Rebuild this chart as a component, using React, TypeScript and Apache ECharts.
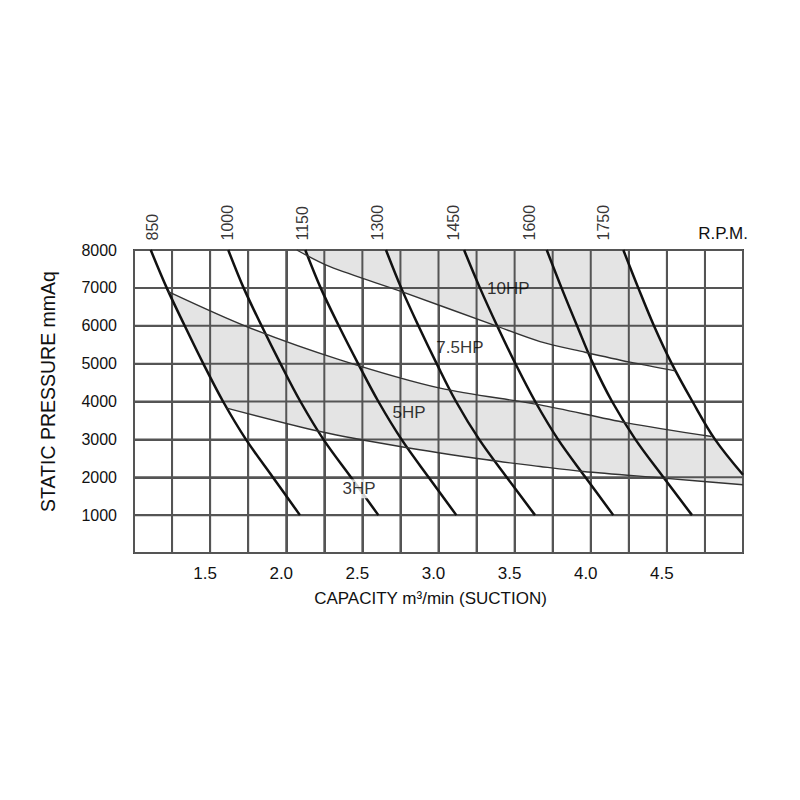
import React, { useEffect, useRef } from 'react';
import * as echarts from 'echarts';

// Static pressure levels (mmAq) at which each RPM curve was read
const pressureLevels = [8000, 7000, 6000, 5000, 4000, 3000, 2000, 1000];

// Capacity (m3/min) of each RPM curve at the pressure levels above
const rpm850 = [1.110, 1.215, 1.333, 1.455, 1.585, 1.735, 1.912, 2.090];
const rpm1000 = [1.619, 1.720, 1.838, 1.962, 2.093, 2.244, 2.425, 2.605];
const rpm1150 = [2.125, 2.226, 2.345, 2.472, 2.605, 2.757, 2.935, 3.117];
const rpm1300 = [2.655, 2.755, 2.868, 2.988, 3.115, 3.267, 3.448, 3.634];
const rpm1450 = [3.168, 3.272, 3.385, 3.505, 3.635, 3.785, 3.965, 4.148];
const rpm1600 = [3.711, 3.808, 3.910, 4.015, 4.140, 4.293, 4.477, 4.665];
// 1750 rpm curve leaves the chart on the right edge
const rpm1750X = [4.214, 4.312, 4.415, 4.532, 4.668, 4.816, 5.0];
const rpm1750Y = [8000, 7000, 6000, 5000, 4000, 3000, 2065];

// Horsepower limit lines
const hp10X = [2.069, 2.287, 2.758, 3.360, 3.667, 3.962, 4.258, 4.555];
const hp10Y = [8000, 7559, 6900, 6022, 5581, 5301, 5038, 4810];
const hp75X = [1.225, 1.740, 2.353, 3.010, 3.667, 4.236, 4.794];
const hp75Y = [6900, 5977, 5099, 4352, 3912, 3437, 3076];
const hp5X = [1.609, 2.222, 2.747, 3.317, 3.667, 3.951, 4.477, 5.0];
const hp5Y = [3825, 3207, 2812, 2461, 2284, 2152, 1978, 1802];

// Labels
const rpmNames = ['850', '1000', '1150', '1300', '1450', '1600', '1750'];
const rpmLabelX = [1.12, 1.617, 2.105, 2.6, 3.096, 3.6, 4.087];
const hpNames = ['10HP', '7.5HP', '5HP', '3HP'];
const hpLabelX = [3.459, 3.141, 2.806, 2.478];
const hpLabelY = [6990, 5428, 3714, 1696];

const capacityTicks = [1.5, 2.0, 2.5, 3.0, 3.5, 4.0, 4.5];
const pressureTicks = [1000, 2000, 3000, 4000, 5000, 6000, 7000, 8000];

// Axis ranges / grid spacing
const X_MIN = 1;
const X_MAX = 5;
const X_STEP = 0.25;
const Y_MIN = 0;
const Y_MAX = 8000;
const Y_STEP = 1000;

const FONT = '"Liberation Sans", Arial, Helvetica, sans-serif';
const TEXT = '#000';
const GRID_COLOR = '#555';

function pairs(xs: number[], ys: number[]): number[][] {
  return xs.map((x, i) => [x, ys[i]]);
}

export default function App() {
  const ref = useRef<HTMLDivElement>(null);
  useEffect(() => {
    const chart = echarts.init(ref.current!, null, { renderer: 'svg' });

    const curves = [rpm850, rpm1000, rpm1150, rpm1300, rpm1450, rpm1600].map((xs) =>
      pairs(xs, pressureLevels)
    );
    curves.push(pairs(rpm1750X, rpm1750Y));
    const c1 = curves[0];
    const c7 = curves[6];
    const hp10 = pairs(hp10X, hp10Y);
    const hp75 = pairs(hp75X, hp75Y);
    const hp5 = pairs(hp5X, hp5Y);

    const polyA = [
      ...hp10,
      ...c7.filter((p) => p[1] > hp10Y[hp10Y.length - 1]).reverse(),
    ];
    const polyB = [
      ...hp75,
      ...c7.filter((p) => p[1] < hp75Y[hp75Y.length - 1]),
      ...hp5.slice().reverse(),
      ...c1.filter((p) => p[1] > hp5Y[0] && p[1] < hp75Y[0]).reverse(),
    ];
    const polys = [polyA, polyB];

    const gridXs: number[] = [];
    for (let i = 0; X_MIN + i * X_STEP <= X_MAX + 1e-9; i++) gridXs.push(X_MIN + i * X_STEP);
    const gridYs: number[] = [];
    for (let i = 0; Y_MIN + i * Y_STEP <= Y_MAX + 1e-9; i++) gridYs.push(Y_MIN + i * Y_STEP);

    const series: any[] = [
      {
        type: 'custom',
        z: 1,
        silent: true,
        data: [[3, 4000]],
        renderItem: (params: any, api: any) => {
          const children: any[] = polys.map((poly) => ({
            type: 'polygon',
            shape: { points: poly.map((p) => api.coord(p)) },
            style: { fill: '#e4e4e4', stroke: 'none' },
          }));
          gridXs.forEach((x) => {
            const a = api.coord([x, Y_MIN]);
            const b = api.coord([x, Y_MAX]);
            children.push({
              type: 'line',
              shape: { x1: a[0], y1: a[1], x2: b[0], y2: b[1] },
              style: { stroke: GRID_COLOR, lineWidth: 2 },
            });
          });
          gridYs.forEach((y) => {
            const a = api.coord([X_MIN, y]);
            const b = api.coord([X_MAX, y]);
            children.push({
              type: 'line',
              shape: { x1: a[0], y1: a[1], x2: b[0], y2: b[1] },
              style: { stroke: GRID_COLOR, lineWidth: 2 },
            });
          });
          return { type: 'group', children };
        },
      },
    ];
    curves.forEach((c) =>
      series.push({
        type: 'line',
        data: c,
        symbol: 'none',
        smooth: 0.35,
        z: 4,
        lineStyle: { color: '#111', width: 2.5 },
      })
    );
    [hp10, hp75, hp5].forEach((c) =>
      series.push({
        type: 'line',
        data: c,
        symbol: 'none',
        smooth: 0.3,
        z: 4,
        lineStyle: { color: '#333', width: 1.4 },
      })
    );
    series.push({
      type: 'scatter',
      clip: false,
      symbolSize: 1,
      itemStyle: { color: 'rgba(0,0,0,0)' },
      data: rpmLabelX.map((x) => [x, 8000]),
      label: {
        show: true,
        formatter: (p: any) => rpmNames[p.dataIndex],
        position: 'top',
        distance: 9,
        rotate: 90,
        align: 'left',
        verticalAlign: 'middle',
        fontSize: 16,
        fontFamily: FONT,
        color: TEXT,
      },
      z: 5,
    });
    series.push({
      type: 'scatter',
      clip: false,
      symbolSize: 1,
      itemStyle: { color: 'rgba(0,0,0,0)' },
      data: hpLabelX.map((x, i) => {
        const item: any = { value: [x, hpLabelY[i]], name: hpNames[i] };
        if (hpNames[i] === '3HP') {
          item.label = { backgroundColor: '#fff', padding: [1, 1] };
        }
        return item;
      }),
      label: {
        show: true,
        formatter: (p: any) => hpNames[p.dataIndex],
        position: 'inside',
        align: 'center',
        verticalAlign: 'middle',
        fontSize: 17,
        fontFamily: FONT,
        color: TEXT,
        textBorderWidth: 0,
      },
      z: 6,
    });

    const axisCommon = {
      axisLine: { show: false },
      axisTick: { show: false },
      splitLine: { show: true, lineStyle: { color: GRID_COLOR, width: 2 } },
    };

    chart.setOption({
      animation: false,
      backgroundColor: '#fff',
      grid: {
        left: 134,
        top: 250,
        width: 609,
        height: 303,
        show: true,
        borderColor: '#444',
        borderWidth: 2,
        backgroundColor: 'transparent',
        containLabel: false,
        outerBoundsMode: 'none',
      },
      xAxis: {
        type: 'value',
        min: X_MIN,
        max: X_MAX,
        interval: X_STEP,
        ...axisCommon,
        axisLabel: {
          margin: 12,
          fontSize: 17,
          fontFamily: FONT,
          color: '#111',
          padding: [0, 10, 0, 0],
          formatter: (v: number) =>
            capacityTicks.some((t) => Math.abs(t - v) < 1e-6) ? v.toFixed(1) : '',
        },
        name: 'CAPACITY m³/min (SUCTION)',
        nameLocation: 'middle',
        nameGap: 37,
        nameTextStyle: { fontSize: 17, fontFamily: FONT, color: '#111', padding: [0, 16, 0, 0] },
      },
      yAxis: {
        type: 'value',
        min: Y_MIN,
        max: Y_MAX,
        interval: Y_STEP,
        ...axisCommon,
        axisLabel: {
          margin: 17,
          fontSize: 16,
          fontFamily: FONT,
          color: '#111',
          padding: [6, 0, 0, 0],
          formatter: (v: number) => (pressureTicks.includes(v) ? String(v) : ''),
        },
        name: 'STATIC PRESSURE mmAq',
        nameLocation: 'middle',
        nameRotate: 90,
        nameGap: 76,
        nameTextStyle: { fontSize: 19.5, fontFamily: FONT, color: '#111', padding: [0, 0, 0, 20] },
      },
      graphic: [
        {
          type: 'text',
          x: 748,
          y: 233,
          style: {
            text: 'R.P.M.',
            font: `17px ${FONT}`,
            fill: '#111',
            align: 'right',
            verticalAlign: 'middle',
            textAlign: 'right',
            textVerticalAlign: 'middle',
          },
        },
      ],
      series,
    });
    return () => chart.dispose();
  }, []);
  return (
    <div
      ref={ref}
      style={{ position: 'fixed', left: 0, top: 0, width: 800, height: 800, background: '#fff' }}
    />
  );
}
